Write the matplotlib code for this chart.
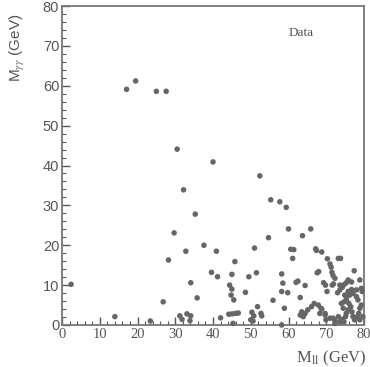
import matplotlib
matplotlib.use('Agg')
import matplotlib.pyplot as plt
from matplotlib.ticker import MultipleLocator

# Scatter data: (M_ll, M_gammagamma) in GeV
m_ll = [17.1, 19.5, 25.0, 27.6, 30.5, 40.0, 52.4, 32.2, 35.3,
        29.7, 37.6, 32.8, 40.9, 51.0, 54.7, 55.3, 57.7, 59.4, 60.0, 65.9, 63.7,
        60.6, 61.4, 67.2, 67.4, 68.8,
        70.3, 71.0, 71.3, 71.5, 73.2, 73.8, 61.1, 45.8, 28.2, 39.6, 41.2, 45.0,
        49.5, 51.5, 34.1, 58.2, 58.5, 62.0, 62.5, 64.4, 67.6, 68.0, 71.8, 72.3,
        77.4, 44.4, 45.0, 35.8, 48.6, 44.8, 45.5, 55.9, 58.2, 59.8, 58.9, 63.1,
        69.3, 69.8, 70.2, 71.6, 71.9, 73.0, 73.6, 74.2, 74.7, 75.3, 75.8, 76.7,
        78.9, 79.3,
        2.4, 14.0, 23.4, 26.8, 31.2, 31.8, 33.1, 34.1, 33.9, 42.0, 44.2, 45.1,
        46.0, 46.7, 45.3, 51.8, 52.7, 52.9, 50.3, 50.8, 50.0, 50.6, 58.2,
        63.1, 63.5, 63.9, 64.4, 65.1, 66.1, 66.8, 67.9, 68.6, 68.3, 69.7, 69.9,
        71.8, 72.3, 73.2, 73.6, 74.2, 74.7, 75.1, 75.3, 75.8, 74.5, 74.0, 74.7,
        75.3, 76.0, 76.5, 76.8, 77.1, 77.5, 78.2, 78.6, 78.9, 79.3, 78.4, 78.0,
        77.1, 76.2, 75.3, 78.9, 79.7, 79.5, 78.0, 76.7,
        68.8, 69.7, 71.0, 72.3, 74.9, 75.8, 73.6]
m_gg = [59.1, 61.2, 58.6, 58.6, 44.1, 40.9, 37.4, 33.9, 27.8,
        23.1, 20.0, 18.5, 18.5, 19.3, 21.9, 31.4, 30.9, 29.5, 24.1, 24.1, 22.4,
        19.0, 18.9, 19.1, 18.7, 18.3,
        16.6, 15.3, 14.5, 13.2, 16.7, 16.7, 16.7, 15.9, 16.3, 13.2, 12.1, 12.7,
        12.1, 13.1, 10.6, 12.8, 10.5, 10.7, 11.0, 9.9, 13.1, 13.4, 12.4, 11.7,
        13.6, 10.0, 9.0, 6.8, 8.2, 7.5, 6.3, 6.2, 8.4, 8.1, 4.2, 6.9,
        10.6, 10.0, 8.4, 10.0, 10.3, 8.1, 8.8, 9.4, 10.1, 10.6, 11.3, 10.8,
        11.3, 9.2,
        10.2, 2.1, 1.0, 5.8, 2.3, 1.4, 2.8, 2.3, 1.1, 1.8, 2.7, 2.8,
        2.9, 3.0, 0.4, 4.6, 2.9, 2.3, 3.2, 2.3, 1.3, 1.0, 0.0,
        2.5, 3.3, 2.1, 2.9, 3.8, 4.6, 5.4, 5.0, 4.2, 2.9, 2.5, 1.3,
        1.7, 1.1, 2.1, 0.8, 1.4, 0.8, 2.1, 2.9, 3.8, 4.2, 5.4, 5.8,
        6.3, 5.4, 4.6, 3.3, 2.1, 1.3, 2.1, 2.9, 4.2, 5.0, 6.3, 7.1,
        7.9, 7.5, 7.1, 1.3, 2.1, 8.4, 8.8, 8.9,
        4.0, 2.9, 1.7, 0.4, 7.5, 8.4, 10.0]

x_ticks = [0, 10, 20, 30, 40, 50, 60, 70, 80]
y_ticks = [0, 10, 20, 30, 40, 50, 60, 70, 80]

plt.rcParams['font.family'] = ['Liberation Serif', 'DejaVu Serif']
plt.rcParams['mathtext.fontset'] = 'stix'
ink = '#555555'
sans = ['Liberation Sans', 'DejaVu Sans']

fig = plt.figure(figsize=(3.70, 3.67), dpi=100)
ax = fig.add_axes([62 / 370, 1 - 325 / 367, 302 / 370, 319 / 367])

ax.scatter(m_ll, m_gg, s=16, color='#666666', edgecolors='none', clip_on=False, zorder=3)

ax.set_xlim(0, 80)
ax.set_ylim(0, 80)
ax.set_xticks(x_ticks)
ax.set_yticks(y_ticks)
ax.xaxis.set_minor_locator(MultipleLocator(2))
ax.yaxis.set_minor_locator(MultipleLocator(2))
ax.tick_params(which='major', direction='in', length=6, width=1, color=ink,
               labelcolor=ink, pad=2, labelsize=10.5)
ax.tick_params(which='minor', direction='in', length=3, width=0.8, color=ink)
for lab in ax.get_yticklabels():
    lab.set_family(sans)
for side in ax.spines.values():
    side.set_color('#777777')
    side.set_linewidth(1.3)

ax.set_ylabel(r'M$_{\gamma\gamma}$ (GeV)', fontsize=11, color=ink, family=sans)
ax.yaxis.set_label_coords(-0.115, 0.87)
ax.set_xlabel(r'M$_{\rm ll}$ (GeV)', fontsize=12, color=ink)
ax.xaxis.set_label_coords(1.008, -0.075)
ax.xaxis.label.set_horizontalalignment('right')

ax.text(60.1, 73.2, 'Data', fontsize=9.5, color=ink, ha='left', va='center')

fig.savefig('out.png', dpi=100)
